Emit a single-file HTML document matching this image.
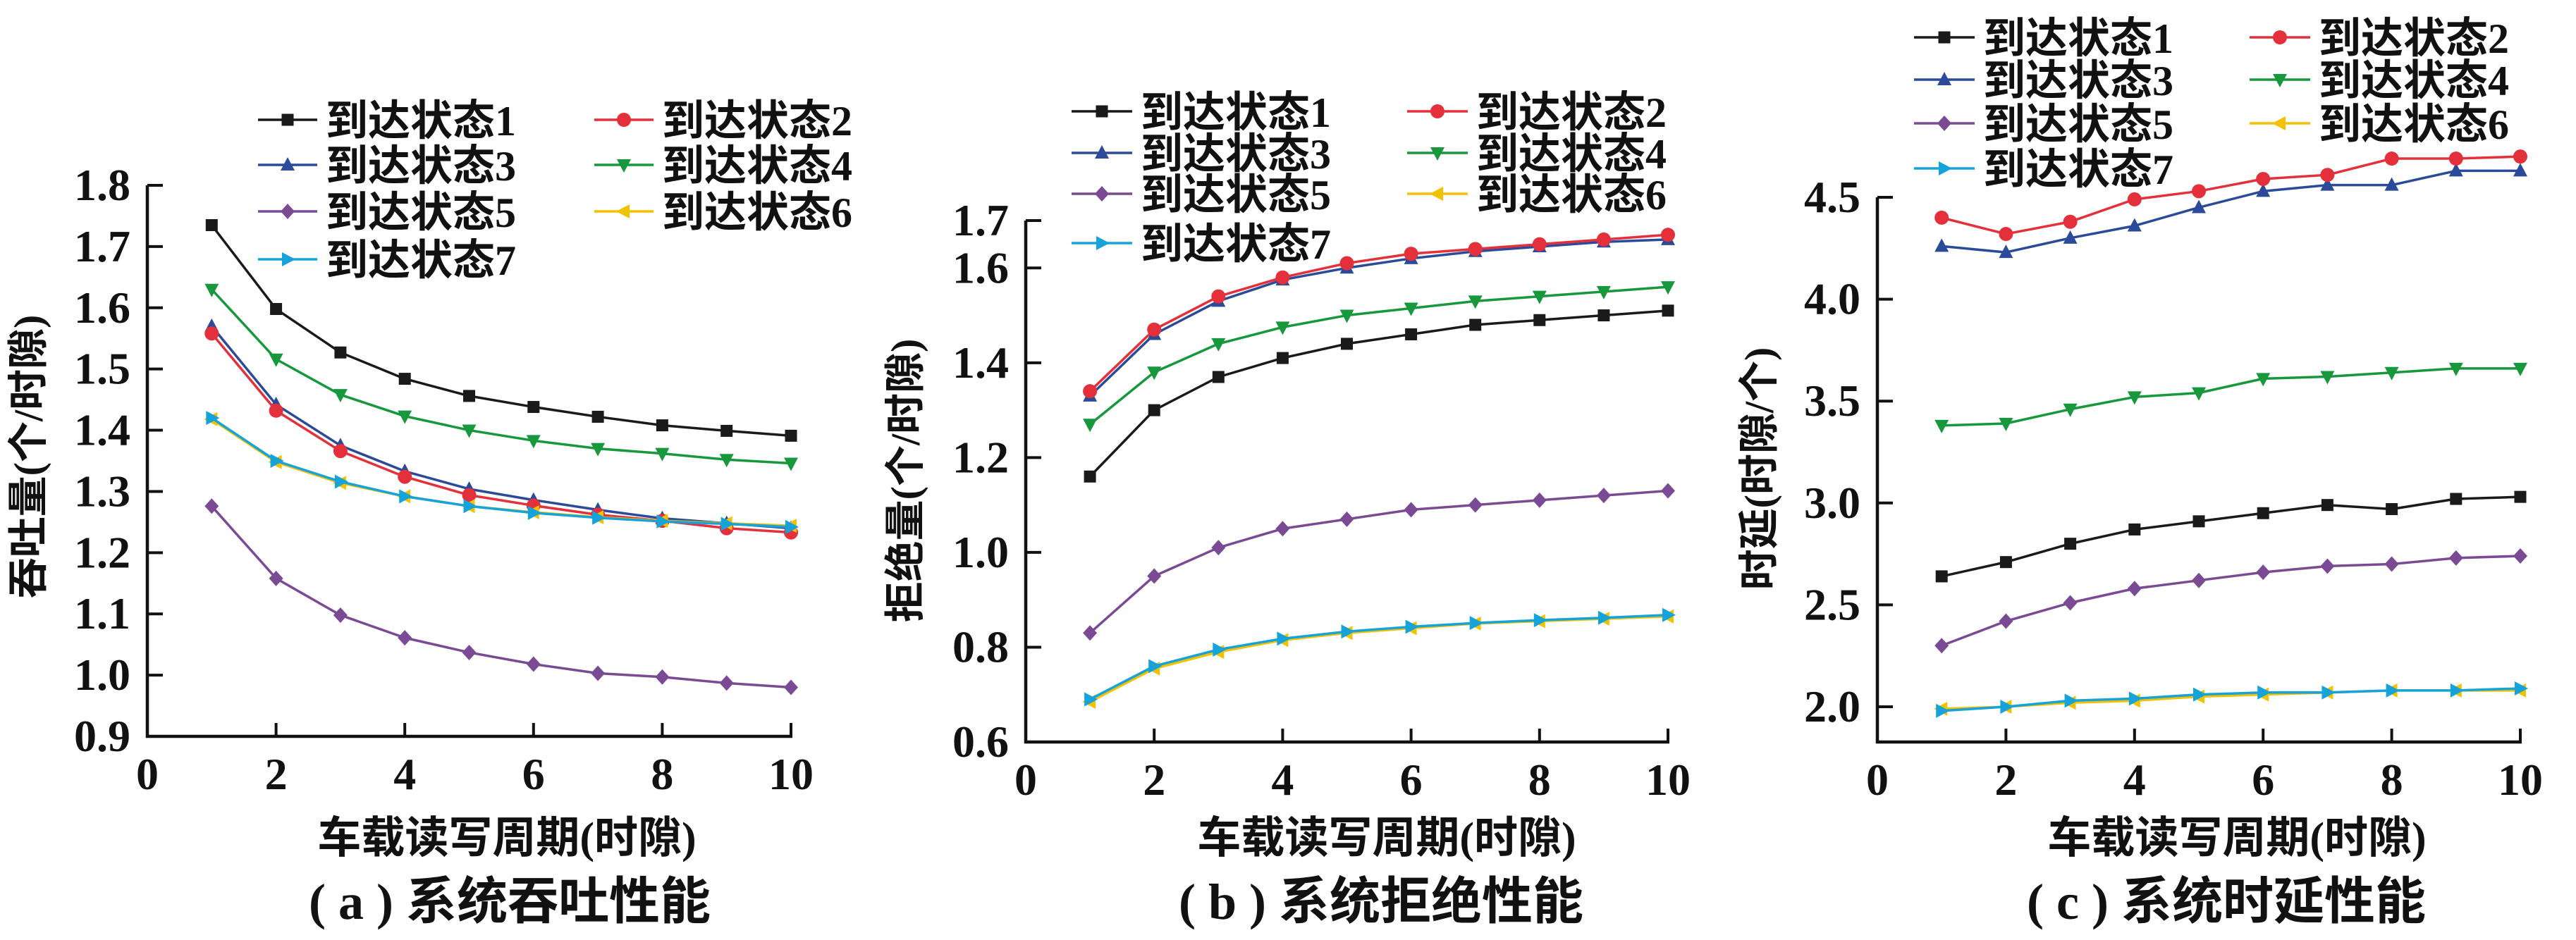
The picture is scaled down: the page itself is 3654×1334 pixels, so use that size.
<!DOCTYPE html>
<html><head><meta charset="utf-8">
<style>
html,body{margin:0;padding:0;background:#fff;}
svg{display:block;}
text{font-family:"Liberation Serif","Noto Serif CJK SC","Noto Sans CJK SC",serif;fill:#111;font-weight:bold;}
.cjk{font-family:"Liberation Serif","Noto Sans CJK SC",sans-serif;}
</style></head>
<body>
<svg id="fig" width="3654" height="1334" viewBox="0 0 3654 1334" xmlns="http://www.w3.org/2000/svg"></svg>
<script>
const xValues = [1,2,3,4,5,6,7,8,9,10];
const xTicks = [0,2,4,6,8,10];
const seriesNames = ['到达状态1','到达状态2','到达状态3','到达状态4','到达状态5','到达状态6','到达状态7'];

const aS1 = [1.735,1.598,1.527,1.484,1.456,1.438,1.422,1.408,1.399,1.391];
const aS2 = [1.558,1.432,1.366,1.324,1.294,1.277,1.262,1.252,1.240,1.233];
const aS3 = [1.570,1.442,1.375,1.333,1.304,1.286,1.270,1.256,1.248,1.240];
const aS4 = [1.630,1.516,1.458,1.423,1.400,1.383,1.370,1.362,1.352,1.346];
const aS5 = [1.276,1.158,1.098,1.061,1.037,1.018,1.003,0.997,0.987,0.980];
const aS6 = [1.418,1.348,1.314,1.292,1.276,1.266,1.258,1.252,1.248,1.244];
const aS7 = [1.420,1.350,1.316,1.292,1.276,1.265,1.257,1.251,1.247,1.242];
const aYTicks = ['0.9','1.0','1.1','1.2','1.3','1.4','1.5','1.6','1.7','1.8'];

const bS1 = [1.16,1.30,1.37,1.41,1.44,1.46,1.48,1.49,1.50,1.51];
const bS2 = [1.34,1.47,1.54,1.58,1.61,1.63,1.64,1.65,1.66,1.67];
const bS3 = [1.33,1.46,1.53,1.575,1.60,1.62,1.635,1.645,1.655,1.66];
const bS4 = [1.27,1.38,1.44,1.475,1.50,1.515,1.53,1.54,1.55,1.56];
const bS5 = [0.83,0.95,1.01,1.05,1.07,1.09,1.10,1.11,1.12,1.13];
const bS6 = [0.685,0.755,0.79,0.815,0.83,0.84,0.85,0.855,0.86,0.865];
const bS7 = [0.69,0.76,0.795,0.818,0.833,0.843,0.851,0.857,0.862,0.868];
const bYTicks = ['0.6','0.8','1.0','1.2','1.4','1.6','1.7'];

const cS1 = [2.64,2.71,2.80,2.87,2.91,2.95,2.99,2.97,3.02,3.03];
const cS2 = [4.40,4.32,4.38,4.49,4.53,4.59,4.61,4.69,4.69,4.70];
const cS3 = [4.26,4.23,4.30,4.36,4.45,4.53,4.56,4.56,4.63,4.63];
const cS4 = [3.38,3.39,3.46,3.52,3.54,3.61,3.62,3.64,3.66,3.66];
const cS5 = [2.30,2.42,2.51,2.58,2.62,2.66,2.69,2.70,2.73,2.74];
const cS6 = [1.99,2.00,2.02,2.03,2.05,2.06,2.07,2.08,2.08,2.08];
const cS7 = [1.98,2.00,2.03,2.04,2.06,2.07,2.07,2.08,2.08,2.09];
const cYTicks = ['2.0','2.5','3.0','3.5','4.0','4.5'];

const NS='http://www.w3.org/2000/svg';
const svg=document.getElementById('fig');
const colors=['#1a1a1a','#e3303b','#2b4a9a','#17983d','#7b4a95','#f2c200','#16a3d9'];
const markers=['square','circle','up','down','diamond','left','right'];

function el(tag,attrs,parent){const e=document.createElementNS(NS,tag);for(const k in attrs)e.setAttribute(k,attrs[k]);(parent||svg).appendChild(e);return e;}
function txt(s,attrs,parent){const e=el('text',attrs,parent);e.textContent=s;return e;}

function marker(g,type,cx,cy,color,r){
  let m;
  if(type==='square') m=el('rect',{x:cx-r*0.85,y:cy-r*0.85,width:r*1.7,height:r*1.7,fill:color},g);
  else if(type==='circle') m=el('circle',{cx:cx,cy:cy,r:r,fill:color},g);
  else {
    let p;
    if(type==='up') p=[[0,-r*1.1],[r,r*0.8],[-r,r*0.8]];
    else if(type==='down') p=[[0,r*1.1],[r,-r*0.8],[-r,-r*0.8]];
    else if(type==='diamond') p=[[0,-r*1.1],[r,0],[0,r*1.1],[-r,0]];
    else if(type==='left') p=[[-r*1.1,0],[r*0.8,-r],[r*0.8,r]];
    else p=[[r*1.1,0],[-r*0.8,-r],[-r*0.8,r]];
    m=el('polygon',{points:p.map(q=>(cx+q[0])+','+(cy+q[1])).join(' '),fill:color},g);
  }
  return m;
}

function chart(cfg){
  const g=el('g',{});
  
  
  const X=v=>cfg.x0+(v-0)*(cfg.x10-cfg.x0)/10;
  const Y=v=>cfg.yBot+(v-cfg.vBot)*(cfg.yTopPx-cfg.yBot)/(cfg.vTop-cfg.vBot);
  const ax=el('path',{d:`M${cfg.x0} ${Y(cfg.axisTopVal)} L${cfg.x0} ${cfg.axisY} L${X(10)+2} ${cfg.axisY}`,fill:'none',stroke:'#111','stroke-width':4.5},g);
  
  
  cfg.yTicks.forEach(t=>{
    const v=parseFloat(t),y=Y(v);
    const tk=el('line',{x1:cfg.x0,x2:cfg.x0+22,y1:y,y2:y,stroke:'#111','stroke-width':4},g);
    
    
    const lb=txt(t,{x:cfg.x0-24,y:y+21,'text-anchor':'end','font-size':64},g);
    
    
  });
  xTicks.forEach(v=>{
    const x=X(v);
    if(v>0){const tk=el('line',{x1:x,x2:x,y1:cfg.axisY,y2:cfg.axisY-19,stroke:'#111','stroke-width':4},g);
      
      }
    const lb=txt(String(v),{x:x,y:cfg.axisY+75,'text-anchor':'middle','font-size':64},g);
    
    
  });
  const xt=txt('车载读写周期(时隙)',{x:cfg.xTitleX,y:1210,'text-anchor':'middle','font-size':62,class:'cjk'},g);
  
  
  const yt=txt(cfg.yTitle,{x:0,y:0,'text-anchor':'middle','font-size':58,class:'cjk',transform:`translate(${cfg.yTitleX+20},${cfg.yTitleY}) rotate(-90)`},g);
  
  
  const cap=txt(cfg.caption,{x:cfg.capX,y:1304,'text-anchor':'middle','font-size':72,class:'cjk'},g);
  
  
  const order=[0,2,1,3,4,5,6];
  order.forEach(i=>{
    const vals=cfg.series[i];
    const sg=el('g',{},g);
    
    
    const d=vals.map((v,k)=>(k?'L':'M')+X(xValues[k])+' '+Y(v)).join(' ');
    el('path',{d:d,fill:'none',stroke:colors[i],'stroke-width':3.5,'stroke-linejoin':'round'},sg);
    vals.forEach((v,k)=>{
      const m=marker(sg,markers[i],X(xValues[k]),Y(v),colors[i],10);
      
      
    });
  });
  seriesNames.forEach((nm,i)=>{
    const col=i%2,row=Math.floor(i/2);
    const lx=col?cfg.legX2:cfg.legX1, ly=cfg.legY[row];
    const lg=el('g',{},g);
    
    
    el('line',{x1:lx,x2:lx+cfg.legLen,y1:ly,y2:ly,stroke:colors[i],'stroke-width':3.5},lg);
    marker(lg,markers[i],lx+cfg.legLen/2,ly,colors[i],10);
    txt(nm,{x:lx+cfg.legLen+12,y:ly+22,'font-size':60,class:'cjk'},lg);
  });
}

chart({name:'chart-a-throughput',x0:209,x10:1122,axisY:1045,vBot:0.9,vTop:1.8,yBot:1045,yTopPx:263,axisTopVal:1.8,
  yTicks:aYTicks,series:[aS1,aS2,aS3,aS4,aS5,aS6,aS7],yTitle:'吞吐量(个/时隙)',yTitleX:40,yTitleY:648,
  xTitleX:719,caption:'( a ) 系统吞吐性能',capX:723,legX1:366,legX2:843,legLen:84,legY:[170,234,300,368]});
chart({name:'chart-b-rejection',x0:1455,x10:2366,axisY:1053,vBot:0.6,vTop:1.7,yBot:1053,yTopPx:313,axisTopVal:1.7,
  yTicks:bYTicks,series:[bS1,bS2,bS3,bS4,bS5,bS6,bS7],yTitle:'拒绝量(个/时隙)',yTitleX:1284,yTitleY:682,
  xTitleX:1967,caption:'( b ) 系统拒绝性能',capX:1959,legX1:1520,legX2:1996,legLen:86,legY:[158,217,275,345]});
chart({name:'chart-c-delay',x0:2663,x10:3575,axisY:1053,vBot:2.0,vTop:4.5,yBot:1003,yTopPx:280,axisTopVal:4.5,
  yTicks:cYTicks,series:[cS1,cS2,cS3,cS4,cS5,cS6,cS7],yTitle:'时延(时隙/个)',yTitleX:2495,yTitleY:665,
  xTitleX:3173,caption:'( c ) 系统时延性能',capX:3158,legX1:2715,legX2:3191,legLen:86,legY:[53,113,175,239]});
</script>
</body></html>
